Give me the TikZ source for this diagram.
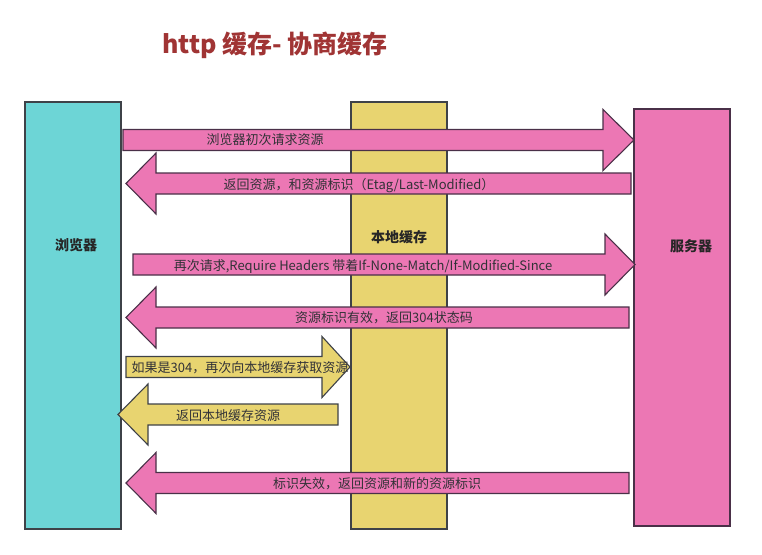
\documentclass[tikz,border=0pt]{standalone}
\usepackage{fontspec}
\setmainfont{Noto Sans CJK SC}
\usepackage{tikz}
\definecolor{cachecyan}{RGB}{109,213,214}
\definecolor{cacheyellow}{RGB}{232,212,112}
\definecolor{cachepink}{RGB}{236,119,180}
\definecolor{titlered}{RGB}{160,52,52}
\definecolor{edgegray}{RGB}{62,66,72}
\definecolor{edgepurple}{RGB}{74,48,72}
\definecolor{msggray}{RGB}{50,50,55}

% block arrows: style, shaft start, head base, tip, y
\newcommand{\rightblock}[5]{\draw[#1] (#2,#5-10.5) -- (#3,#5-10.5) -- (#3,#5-30.5) -- (#4,#5) -- (#3,#5+30.5) -- (#3,#5+10.5) -- (#2,#5+10.5) -- cycle;}
\newcommand{\leftblock}[5]{\draw[#1] (#2,#5-10.5) -- (#3,#5-10.5) -- (#3,#5-30.5) -- (#4,#5) -- (#3,#5+30.5) -- (#3,#5+10.5) -- (#2,#5+10.5) -- cycle;}

\begin{document}
\begin{tikzpicture}[x=1pt, y=-1pt,
        lane/.style={draw=edgegray, line width=1.2pt, inner sep=0pt, minimum width=96pt},
        pinkarrow/.style={fill=cachepink, draw=edgepurple, line width=1.1pt},
        yellowarrow/.style={fill=cacheyellow, draw=edgegray, line width=1.1pt},
        msg/.style={font=\fontsize{13}{15}\selectfont, text=msggray, inner sep=1pt},
        lanelabel/.style={font=\fontsize{14}{16}\selectfont\bfseries, text=black!85}
    ]
        \useasboundingbox (0,0) rectangle (762,554);
        \node[font=\fontsize{25}{28}\selectfont\bfseries, text=titlered] (title) at (275,45) {http 缓存- 协商缓存};

        \node[lane, fill=cachecyan, minimum height=427pt] (browser) at (73,315.5) {};
        \node[lane, fill=cacheyellow, minimum height=427pt] (cache) at (399,315.5) {};
        \node[lane, fill=cachepink, draw=edgepurple, minimum height=417pt] (server) at (682,317.5) {};
        \node[lanelabel] (browserlabel) at (76,245) {浏览器};
        \node[lanelabel] (cachelabel) at (399,237) {本地缓存};
        \node[lanelabel] (serverlabel) at (691,246) {服务器};

        \rightblock{pinkarrow}{123}{603}{634}{140}
        \leftblock{pinkarrow}{631}{156}{126}{183.5}
        \rightblock{pinkarrow}{133}{605}{635}{264.5}
        \leftblock{pinkarrow}{629}{156}{126}{317.5}
        \rightblock{yellowarrow}{126}{322}{350}{367}
        \leftblock{yellowarrow}{338}{148}{118}{414.5}
        \leftblock{pinkarrow}{629}{156}{126}{483}

        \node[msg] (firstreq) at (265,140) {浏览器初次请求资源};
        \node[msg] (firstresp) at (359,185.5) {返回资源，和资源标识（Etag/Last-Modified）};
        \node[msg] (secondreq) at (363,266) {再次请求,Require Headers 带着If-None-Match/If-Modified-Since};
        \node[msg] (valid) at (384,318) {资源标识有效，返回304状态码};
        \node[msg] (askcache) at (240,368) {如果是304，再次向本地缓存获取资源};
        \node[msg] (fromcache) at (228,416) {返回本地缓存资源};
        \node[msg] (invalid) at (377,484) {标识失效，返回资源和新的资源标识};
    \end{tikzpicture}
\end{document}
